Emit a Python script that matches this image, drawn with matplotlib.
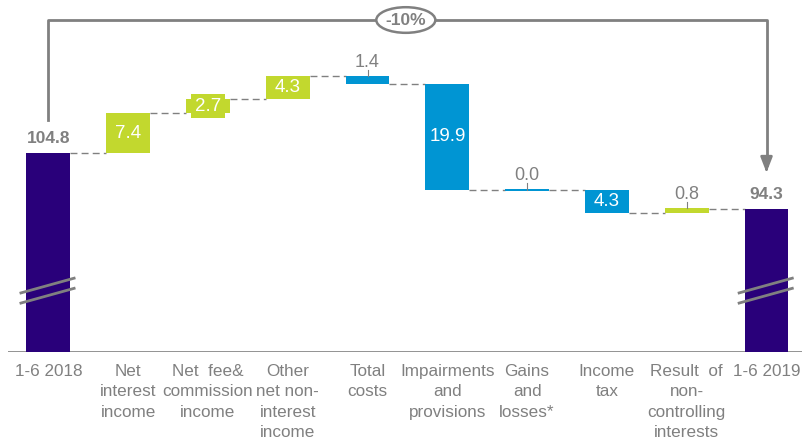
import numpy as np
import matplotlib.pyplot as plt
from matplotlib.patches import Ellipse

plt.rcParams['font.family'] = ['Liberation Sans', 'DejaVu Sans']

categories = ["1-6 2018", "Net\ninterest\nincome", "Net  fee&\ncommission\nincome",
              "Other\nnet non-\ninterest\nincome", "Total\ncosts", "Impairments\nand\nprovisions",
              "Gains\nand\nlosses*", "Income\ntax", "Result  of\nnon-\ncontrolling\ninterests", "1-6 2019"]
start_value = 104.8
end_value = 94.3
changes = [7.4, 2.7, 4.3, -1.4, -19.9, 0.0, -4.3, 0.8]
change_labels = ["7.4", "2.7", "4.3", "1.4", "19.9", "0.0", "4.3", "0.8"]
total_change_label = "-10%"

PURPLE = "#29007a"
GREEN = "#c2d82e"
BLUE = "#0095d3"
GRAY = "#808080"

fig = plt.figure(figsize=(8.02, 4.43), dpi=100)
ax = fig.add_axes([0.0105, 0.2054, 0.995, 0.7946])
ax.set_xlim(-0.5, 9.5)
ax.set_ylim(67.5, 133.45)
ax.axis("off")
ax.axhline(67.5, color=GRAY, lw=1.2, xmin=0, xmax=1)

w = 0.55
x = np.arange(len(categories))

# totals
for xi, v in [(0, start_value), (9, end_value)]:
    ax.bar(xi, v - 67.5, bottom=67.5, width=w, color=PURPLE, zorder=2)
    ax.text(xi, v + 1.3, f"{v:.1f}", ha="center", va="bottom", fontsize=12.5,
            fontweight="bold", color=GRAY)
    # axis break marks
    for off in (0, -1.9):
        ax.plot([xi - 0.36, xi + 0.34], [78.5 + off, 81.4 + off], color=GRAY, lw=2, zorder=3,
                solid_capstyle="butt")

# floating bars
level = start_value
for i, (c, lab) in enumerate(zip(changes, change_labels)):
    xi = i + 1
    new = level + c
    lo, hi = min(level, new), max(level, new)
    color = GREEN if c > 0 else BLUE
    h = hi - lo
    if h < 0.3:
        h = 0.3
        lo = level - 0.15
    ax.bar(xi, h, bottom=lo, width=w, color=color, zorder=2)
    if abs(c) >= 2:
        bbox = None
        if abs(c) < 3:
            bbox = dict(boxstyle="square,pad=0.2", fc=color, ec="none")
        ax.text(xi, (lo + hi) / 2, lab, ha="center", va="center", fontsize=13.5,
                color="white", bbox=bbox, zorder=3)
    else:
        ax.plot([xi, xi], [hi, hi + 1.2], color=GRAY, lw=0.8, zorder=3)
        ax.text(xi, hi + 1.0, lab, ha="center", va="bottom", fontsize=13, color=GRAY)
    # connector
    ax.plot([xi - 1 + w / 2, xi - w / 2], [level, level], color=GRAY, lw=1,
            dashes=(5, 3), zorder=1)
    level = new
ax.plot([8 + w / 2, 9 - w / 2], [end_value, end_value], color=GRAY, lw=1,
        dashes=(5, 3), zorder=1)

# bracket with percentage change
ytop = 129.7
ax.plot([0, 0, 9, 9], [111.0, ytop, ytop, 102.5], color=GRAY, lw=2, zorder=1)
ax.annotate("", xy=(9, 100.6), xytext=(9, 102.6),
            arrowprops=dict(arrowstyle="-|>,head_width=0.35,head_length=0.9",
                            color=GRAY, lw=2))
ell = Ellipse((4.48, ytop), 0.74, 4.8, fc="white", ec=GRAY, lw=1.8, zorder=3)
ax.add_patch(ell)
ax.text(4.48, ytop, total_change_label, ha="center", va="center", fontsize=12.5,
        fontweight="bold", color=GRAY, zorder=4)

# category labels
for xi, cat in zip(x, categories):
    ax.text(xi, 65.3, cat, ha="center", va="top", fontsize=12.3, color=GRAY,
            linespacing=1.45)

fig.savefig("out.png", dpi=100)
